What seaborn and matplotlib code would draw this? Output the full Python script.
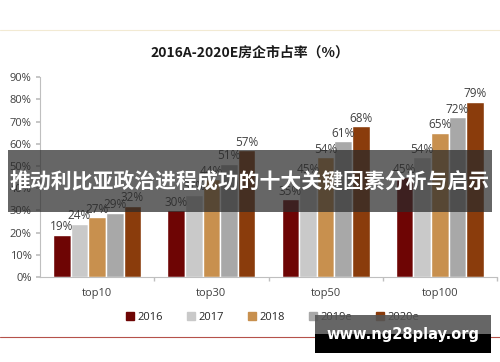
import matplotlib
matplotlib.use("Agg")
import matplotlib.pyplot as plt
import seaborn as sns
import pandas as pd
from matplotlib.patches import Rectangle

categories = ["top10", "top30", "top50", "top100"]
series = ["2016", "2017", "2018", "2019e", "2020e"]
v2016 = [19, 30, 35, 45]
v2017 = [24, 37, 45, 54]
v2018 = [27, 44, 54, 65]
v2019e = [29, 51, 61, 72]
v2020e = [32, 57, 68, 79]
ytick_labels = ["0%", "10%", "20%", "30%", "40%", "50%", "60%", "70%", "80%", "90%"]
title = "2016A-2020E房企市占率（%）"
banner = "推动利比亚政治进程成功的十大关键因素分析与启示"
watermark = "www.ng28play.org"

colors = ["#6E0504", "#C9C9C9", "#C8904E", "#A8A8A8", "#8A3C0C"]

rows = []
for s, vals in zip(series, [v2016, v2017, v2018, v2019e, v2020e]):
    for c, v in zip(categories, vals):
        rows.append({"cat": c, "series": s, "value": v})
df = pd.DataFrame(rows)

sns.set_theme(style="white")
plt.rcParams['font.family'] = ['Noto Sans CJK SC', 'DejaVu Sans']
lat = ['Open Sans', 'DejaVu Sans']

fig = plt.figure(figsize=(5, 3.62), dpi=100)
ax = fig.add_axes([0.08, 0.235, 0.914, 0.552])
sns.barplot(data=df, x="cat", y="value", hue="series", palette=colors,
            width=0.77, ax=ax, legend=False, saturation=1)

ax.set_ylim(0, 90)
ax.set_xlim(-0.5, 3.5)
ax.set_yticks(range(0, 91, 10))
ax.set_yticklabels(ytick_labels, fontsize=8, color="#404040", family=lat)
ax.set_xticks(range(4))
ax.set_xticklabels(categories, fontsize=8, color="#404040", family=lat)
ax.set_xlabel("")
ax.set_ylabel("")
for sp in ["top", "right"]:
    ax.spines[sp].set_visible(False)
ax.spines["left"].set_color("#BFBFBF")
ax.spines["bottom"].set_color("#BFBFBF")
ax.spines["left"].set_linewidth(0.8)
ax.spines["bottom"].set_linewidth(0.8)
ax.tick_params(axis="x", length=0, pad=8)
ax.tick_params(axis="y", length=3, color="#BFBFBF", left=True, pad=3)
ax.set_xticks([0.5, 1.5, 2.5, 3.5], minor=True)
ax.tick_params(axis="x", which="minor", length=3, color="#BFBFBF", bottom=True)

for cont in ax.containers:
    labels = [f"{int(round(b.get_height()))}%" for b in cont]
    ax.bar_label(cont, labels=labels, fontsize=8.5, color="#404040", padding=1, family=lat)

# title
fig.text(0.5, 0.856, title, ha="center", va="center", fontsize=10, fontweight="bold", color="#1a1a1a")

# legend
handles = [Rectangle((0, 0), 1, 1, color=c) for c in colors]
fig.legend(handles, series, loc="center", bbox_to_anchor=(0.545, 0.124), ncol=5, frameon=False,
           handlelength=0.7, handleheight=0.7, handletextpad=0.3, columnspacing=2.2,
           prop={'family': lat, 'size': 8})

# decorative lines
fig.add_artist(plt.Line2D([0, 1], [1 - 30 / 362, 1 - 30 / 362], color="#F2EAD3", lw=0.8))
fig.add_artist(plt.Line2D([0, 1], [1 - 337 / 362, 1 - 337 / 362], color="#B5524A", lw=0.8))

# banner overlay
fig.add_artist(Rectangle((8 / 500, 1 - 212 / 362), 484 / 500, 62 / 362, transform=fig.transFigure,
                         facecolor="#2b2b2b", alpha=0.72, edgecolor="none", zorder=10))
fig.text(0.5, 1 - 182 / 362, banner, ha="center", va="center", fontsize=15, fontweight="bold",
         color="white", zorder=11)

# watermark
fig.add_artist(Rectangle((315 / 500, 1 - 353 / 362), 176 / 500, 38 / 362, transform=fig.transFigure,
                         facecolor="#555555", alpha=0.9, edgecolor="none", zorder=10))
fig.add_artist(Rectangle((315 / 500, 1 - 353 / 362), 176 / 500, 19 / 362, transform=fig.transFigure,
                         facecolor="black", edgecolor="none", zorder=10))
fig.text(403 / 500, 1 - 335 / 362, watermark, ha="center", va="center", fontsize=10.5, fontweight="bold",
         color="white", zorder=11, family=['DejaVu Sans'])

fig.savefig("out.png", dpi=100)
